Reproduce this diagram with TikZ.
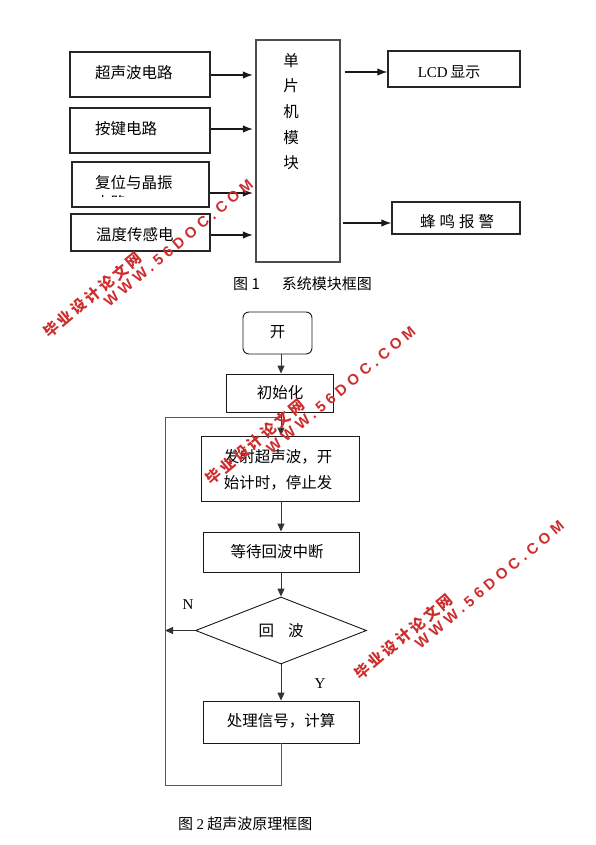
\documentclass[tikz,border=0pt]{standalone}
\usepackage{fontspec}
\usetikzlibrary{arrows.meta,shapes.geometric}
\setmainfont{Liberation Serif}
\newfontfamily\cjk{Noto Sans CJK SC}
\newfontfamily\wmcjk[LetterSpace=20]{Noto Sans CJK SC}
\newfontfamily\wmlat[LetterSpace=30]{Liberation Sans}
\definecolor{wmred}{RGB}{205,45,45}
\newcommand{\wmark}[3]{%
  \node[wm, rotate=40] (#1a) at (#2,#3) {\wmcjk\bfseries 毕业设计论文网};
  \node[wm, rotate=40] (#1b) at (#2+86,#3-52) {\wmlat\bfseries WWW.56DOC.COM};
}
\begin{document}
\begin{tikzpicture}[x=1pt,y=-1pt,
  boxa/.style={draw=black!85, line width=1.4pt, inner sep=0pt},
  boxb/.style={draw=black!90, line width=0.9pt, inner sep=0pt},
  lbl/.style={inner sep=0pt, font=\cjk\fontsize{15.5}{20}\selectfont},
  latin/.style={inner sep=0pt, font=\fontsize{15}{18}\selectfont},
  arra/.style={line width=1.2pt, draw=black!90, -{Latex[length=10pt,width=7.5pt]}},
  arrb/.style={line width=0.9pt, draw=black!80, -{Triangle[length=8pt,width=7pt]}},
  loopline/.style={line width=0.9pt, draw=black!65},
  wm/.style={inner sep=0pt, text=wmred, font=\fontsize{15}{17}\selectfont}
]
\useasboundingbox (0,0) rectangle (595,845);
\fill[white] (0,0) rectangle (595,845);

% ---------- Figure 1 ----------
\node[boxa, minimum width=140pt, minimum height=45pt] (b1) at (140,74.5) {};
\node[boxa, minimum width=140pt, minimum height=45pt] (b2) at (140,130.5) {};
\node[boxa, minimum width=137pt, minimum height=45pt] (b3) at (140.5,184.5) {};
\node[boxa, minimum width=139pt, minimum height=37pt] (b4) at (140.5,232.5) {};
\node[boxa, draw=black!70, minimum width=84pt, minimum height=222pt] (mcu) at (298,151) {};
\node[boxa, minimum width=132pt, minimum height=36pt] (lcd) at (454,69) {};
\node[boxa, minimum width=128pt, minimum height=32pt] (bz) at (456,218) {};

\node[lbl, anchor=west] (t1) at (95,73) {超声波电路};
\node[lbl, anchor=west] (t2) at (95,129) {按键电路};
\begin{scope}
  \clip (73,163) rectangle (208,196);
  \node[lbl, anchor=north west, align=left] (t3) at (95,175) {复位与晶振\\电路};
\end{scope}
\node[lbl, anchor=west] (t4) at (96,235) {温度传感电};
\node[lbl, anchor=north, align=center, font=\cjk\fontsize{15.5}{25.7}\selectfont] (tm) at (291,53) {单\\片\\机\\模\\块};
\node[inner sep=0pt] (tl) at (449,72) {\fontsize{15}{18}\selectfont LCD\,\cjk 显示};
\node[lbl] (tb) at (457,222) {蜂\hspace{4pt}鸣\hspace{4pt}报\hspace{4pt}警};

\coordinate (a1) at ([yshift=-0.5pt]b1.east);
\coordinate (a2) at ([yshift=1.5pt]b2.east);
\coordinate (a3) at ([yshift=-8.5pt]b3.east);
\coordinate (a4) at ([yshift=-2.5pt]b4.east);
\draw[arra, shorten >=2.5pt] (a1) -- (a1 -| mcu.west);
\draw[arra, shorten >=2.5pt] (a2) -- (a2 -| mcu.west);
\draw[arra, shorten >=2.5pt] (a3) -- (a3 -| mcu.west);
\draw[arra, shorten >=2.5pt] (a4) -- (a4 -| mcu.west);
\coordinate (o1) at ([yshift=-3pt]lcd.west);
\coordinate (o2) at ([yshift=-5pt]bz.west);
\draw[arra, shorten <=4pt] (o1 -| mcu.east) -- (o1);
\draw[arra, shorten <=2pt] (o2 -| mcu.east) -- (o2);

\node[inner sep=0pt, anchor=west] (cap1) at (233,284) {\cjk\fontsize{15}{18}\selectfont 图 1\hspace{22pt}系统模块框图};

% ---------- Figure 2 ----------
\node[boxb, rounded corners=6pt, minimum width=69pt, minimum height=42pt] (st) at (277.5,333) {};
\node[lbl] (stt) at (277.5,332) {开};
\node[boxb, minimum width=107pt, minimum height=38pt] (init) at (279.5,393) {};
\node[lbl] (initt) at (280,393) {初始化};
\node[boxb, minimum width=158pt, minimum height=65pt] (emit) at (280,468.5) {};
\node[lbl, align=left, font=\cjk\fontsize{15.5}{26}\selectfont] (emitt) at (278,470) {发射超声波，开\\始计时，停止发};
\node[boxb, minimum width=156pt, minimum height=40pt] (wait) at (281,552) {};
\node[lbl] (waitt) at (277,552) {等待回波中断};
\node[boxb, shape=diamond, minimum width=171pt, minimum height=67pt] (dm) at (281,630.5) {};
\node[lbl] (dmt) at (281,631) {回\hspace{14pt}波};
\node[boxb, minimum width=156pt, minimum height=42pt] (proc) at (281,722) {};
\node[lbl] (proct) at (281,721) {处理信号，计算};
\node[latin] (nlab) at (188,605) {N};
\node[latin] (ylab) at (320,684) {Y};

\coordinate (lj) at (281,417);
\coordinate (ltop) at (165,417);
\coordinate (lbot) at (165,785);
\coordinate (rbot) at (281,785);

\draw[arrb] (st.south -| wait.center) -- (init.north -| wait.center);
\draw[arrb] (init.south -| wait.center) -- (emit.north -| wait.center);
\draw[arrb] (emit.south -| wait.center) -- (wait.north);
\draw[arrb] (wait.south) -- (dm.north);
\draw[arrb] (dm.south) -- (proc.north);
\draw[arrb] (dm.west) -- (dm.west -| lbot);
\draw[loopline] (proc.south) -- (rbot) -- (lbot) -- (ltop) -- (lj);

\node[inner sep=0pt, anchor=west] (cap2) at (178,824) {\cjk\fontsize{15}{18}\selectfont 图 {\rmfamily 2} 超声波原理框图};

% ---------- watermarks ----------
\wmark{wmA}{92.5}{295}
\wmark{wmB}{255}{442}
\wmark{wmC}{403.5}{636.5}
\end{tikzpicture}
\end{document}
